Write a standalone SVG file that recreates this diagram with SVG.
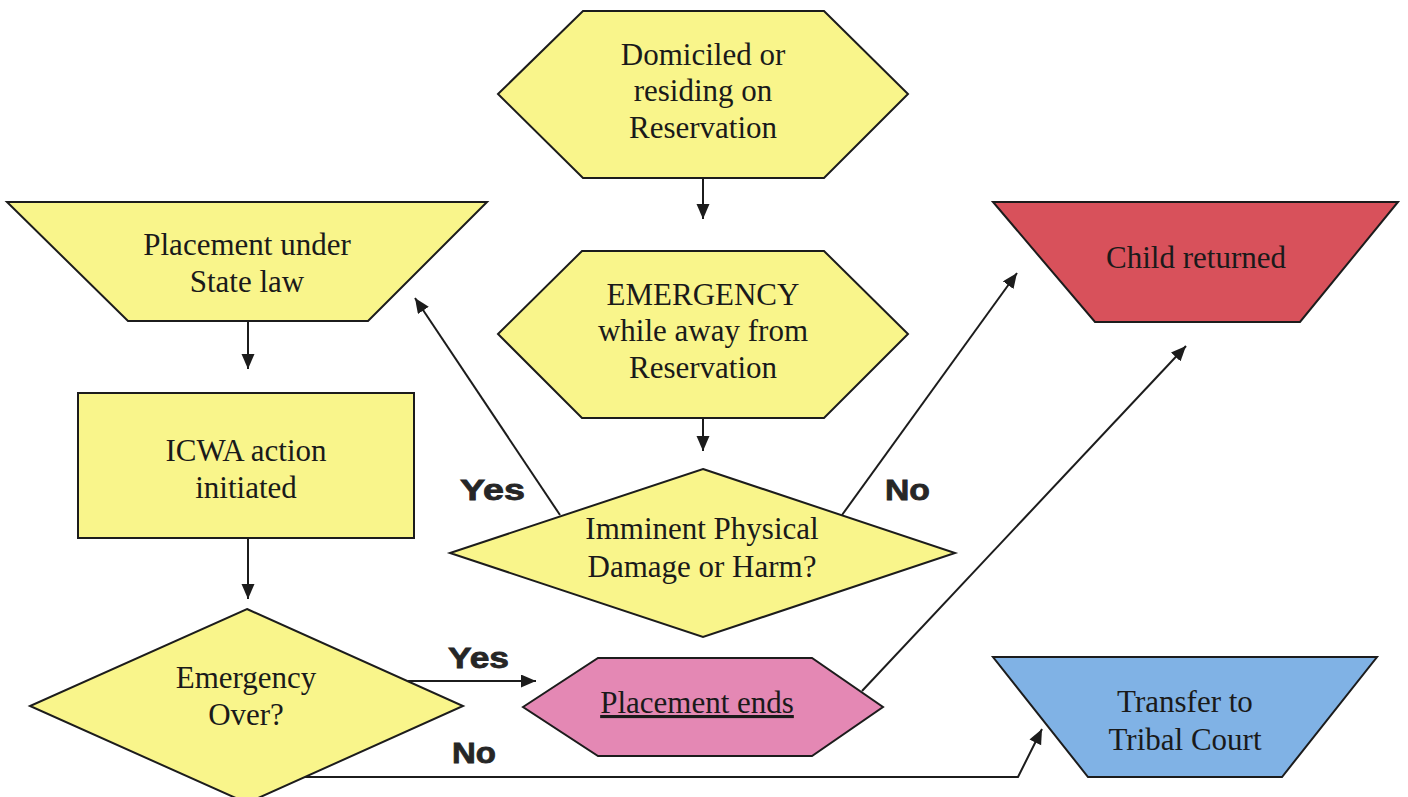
<svg xmlns="http://www.w3.org/2000/svg" width="1408" height="797" viewBox="0 0 1408 797">
  <style>
    .shape { stroke: #1c1c1c; stroke-width: 2; stroke-linejoin: miter; }
    .yellow { fill: #F9F58B; }
    .red { fill: #D8515B; }
    .pink { fill: #E488B4; }
    .blue { fill: #80B2E5; }
    .label { font-family: "Liberation Serif", "Times New Roman", serif; font-size: 31px; fill: #1a1a1a; text-anchor: middle; }
    .answer { font-family: "Liberation Sans", Arial, sans-serif; font-size: 30px; font-weight: bold; fill: #262626; stroke: #262626; stroke-width: 0.8; }
    .link { fill: none; stroke: #1c1c1c; stroke-width: 2; }
  </style>
  <defs>
    <marker id="arrow" markerUnits="userSpaceOnUse" markerWidth="17" markerHeight="15" refX="15" refY="6.5" orient="auto">
      <path d="M0,0 L15,6.5 L0,13 Z" fill="#1c1c1c"/>
    </marker>
  </defs>

  <rect width="1408" height="797" fill="#ffffff"/>

  <!-- Connectors -->
  <g id="connectors">
    <line class="link" x1="703" y1="178" x2="703" y2="219" marker-end="url(#arrow)"/>
    <line class="link" x1="703" y1="418" x2="703" y2="451" marker-end="url(#arrow)"/>
    <line class="link" x1="248" y1="321" x2="248" y2="369" marker-end="url(#arrow)"/>
    <line class="link" x1="248" y1="538" x2="248" y2="599" marker-end="url(#arrow)"/>
    <line class="link" x1="560" y1="515" x2="415" y2="298" marker-end="url(#arrow)"/>
    <line class="link" x1="842" y1="515" x2="1017" y2="273" marker-end="url(#arrow)"/>
    <line class="link" x1="862" y1="691" x2="1186" y2="346" marker-end="url(#arrow)"/>
    <line class="link" x1="408" y1="681" x2="536" y2="681" marker-end="url(#arrow)"/>
    <polyline class="link" points="304,777 1018,777 1042,729" marker-end="url(#arrow)"/>
  </g>

  <!-- Nodes -->
  <g id="domiciled">
    <polygon class="shape yellow" points="498,94 583,11 824,11 908,94 824,178 583,178"/>
    <text class="label" x="703" y="65">Domiciled or</text>
    <text class="label" x="703" y="101">residing on</text>
    <text class="label" x="703" y="138">Reservation</text>
  </g>

  <g id="emergency-away">
    <polygon class="shape yellow" points="498,334 582,251 824,251 908,334 824,418 582,418"/>
    <text class="label" x="703" y="305">EMERGENCY</text>
    <text class="label" x="703" y="341">while away from</text>
    <text class="label" x="703" y="378">Reservation</text>
  </g>

  <g id="imminent-harm">
    <polygon class="shape yellow" points="703,469 955,553 703,637 450,553"/>
    <text class="label" x="702" y="539">Imminent Physical</text>
    <text class="label" x="702" y="577">Damage or Harm?</text>
  </g>

  <g id="state-placement">
    <polygon class="shape yellow" points="7,202 487,202 368,321 128,321"/>
    <text class="label" x="247" y="255">Placement under</text>
    <text class="label" x="247" y="292">State law</text>
  </g>

  <g id="icwa-action">
    <rect class="shape yellow" x="78" y="393" width="336" height="145"/>
    <text class="label" x="246" y="461">ICWA action</text>
    <text class="label" x="246" y="498">initiated</text>
  </g>

  <g id="emergency-over">
    <polygon class="shape yellow" points="247,609 463,706 247,803 30,706"/>
    <text class="label" x="246" y="688">Emergency</text>
    <text class="label" x="246" y="725">Over?</text>
  </g>

  <g id="child-returned">
    <polygon class="shape red" points="993,202 1398,202 1300,322 1095,322"/>
    <text class="label" x="1196" y="268">Child returned</text>
  </g>

  <g id="placement-ends">
    <polygon class="shape pink" points="523,707 598,658 812,658 883,707 812,756 598,756"/>
    <text class="label" x="697" y="713" text-decoration="underline">Placement ends</text>
  </g>

  <g id="tribal-transfer">
    <polygon class="shape blue" points="993,657 1377,657 1282,777 1088,777"/>
    <text class="label" x="1185" y="712">Transfer to</text>
    <text class="label" x="1185" y="750">Tribal Court</text>
  </g>

  <!-- Branch answers -->
  <g id="answers">
    <text class="answer" x="460" y="500" textLength="65" lengthAdjust="spacingAndGlyphs">Yes</text>
    <text class="answer" x="885" y="500" textLength="45" lengthAdjust="spacingAndGlyphs">No</text>
    <text class="answer" x="448" y="668" textLength="61" lengthAdjust="spacingAndGlyphs">Yes</text>
    <text class="answer" x="452" y="763" textLength="44" lengthAdjust="spacingAndGlyphs">No</text>
  </g>
</svg>
